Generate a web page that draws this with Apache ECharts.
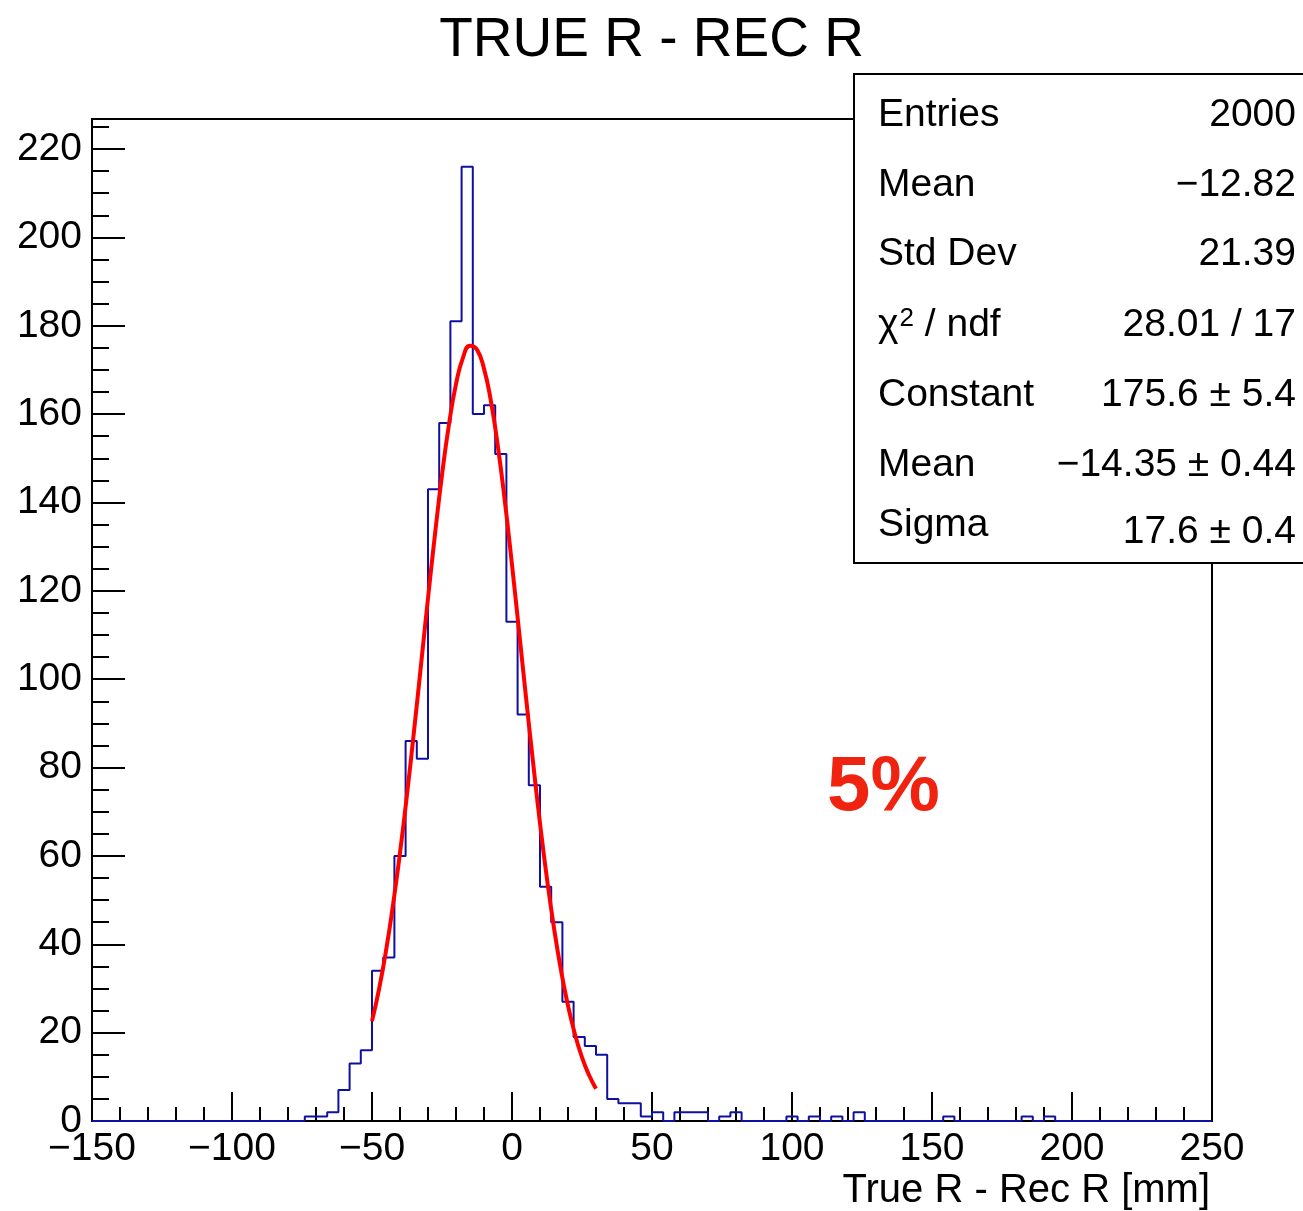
<!DOCTYPE html>
<html>
<head>
<meta charset="utf-8">
<script src="https://cdn.jsdelivr.net/npm/echarts@6/dist/echarts.min.js"></script>
<style>
  html, body { margin: 0; padding: 0; background: #fff; }
  #chart { width: 1303px; height: 1211px; }
</style>
</head>
<body>
<div id="chart"></div>
<script>
// histogram: 100 bins of 4 mm from -150 to 250
var binLow = -150
var binWidth = 4
var counts = [
  0, 0, 0, 0, 0, 0, 0, 0, 0, 0,
  0, 0, 0, 0, 0, 0, 0, 0, 0, 1,
  1, 2, 7, 13, 16, 34, 37, 60, 86, 82,
  143, 158, 181, 216, 160, 162, 151, 113, 92, 76,
  53, 45, 27, 19, 17, 15, 5, 4, 4, 1,
  2, 0, 2, 2, 2, 0, 1, 2, 0, 0,
  0, 0, 1, 0, 1, 0, 1, 0, 2, 0,
  0, 0, 0, 0, 0, 0, 1, 0, 0, 0,
  0, 0, 0, 1, 0, 1, 0, 0, 0, 0,
  0, 0, 0, 0, 0, 0, 0, 0, 0, 0
]

// gaussian fit curve (range -50 .. 30)
var fitX = [-50, -47.5, -45, -42.5, -40, -37.5, -35, -32.5, -30, -27.5, -25, -22.5, -20, -17.5, -15, -12.5,
  -10, -7.5, -5, -2.5, 0, 2.5, 5, 7.5, 10, 12.5, 15, 17.5, 20, 22.5, 25, 27.5, 30]
var fitY = [22.6, 29.8, 38.5, 48.9, 60.7, 73.9, 88.2, 103.2, 118.3, 132.8, 146.2, 157.7, 166.8, 172.8, 175.5, 174.6,
  170.3, 162.8, 152.5, 140.0, 125.9, 111.0, 95.9, 81.3, 67.4, 54.8, 43.7, 34.1, 26.1, 19.6, 14.4, 10.4, 7.3]

// stats box
var statNames = ['Entries', 'Mean', 'Std Dev', '{a|χ}{s|2}{a| / ndf}', 'Constant', 'Mean', 'Sigma']
var statValues = ['2000', '−12.82', '21.39', '28.01 / 17', '175.6 ± 5.4', '−14.35 ± 0.44', '17.6 ± 0.4']

var FONT = "'Liberation Sans', Arial, Helvetica, sans-serif"

var histData = counts.map(function (c, i) { return [binLow + i * binWidth, c] })
histData.push([binLow + counts.length * binWidth, 0])
var fitData = fitX.map(function (x, i) { return [x, fitY[i]] })

var nameY = [115, 185, 254, 325, 395, 465, 525]
var valueY = [115, 185, 254, 325, 395, 465, 532]
var statGraphics = []
statNames.forEach(function (n, i) {
  statGraphics.push({
    type: 'text', x: 878, y: nameY[i], z: 101,
    style: {
      text: n, font: '39px ' + FONT, fill: '#000', align: 'left', verticalAlign: 'middle',
      rich: {
        a: { fontSize: 39, fontFamily: FONT, fill: '#000', lineHeight: 39 },
        s: { fontSize: 26, fontFamily: FONT, fill: '#000', verticalAlign: 'top', lineHeight: 39, padding: [0, 0, 0, 1] }
      }
    }
  })
  statGraphics.push({
    type: 'text', x: 1296, y: valueY[i], z: 101,
    style: { text: statValues[i], font: '39px ' + FONT, fill: '#000', align: 'right', verticalAlign: 'middle' }
  })
})

var chart = echarts.init(document.getElementById('chart'), null, { renderer: 'canvas' })
chart.setOption({
  animation: false,
  backgroundColor: '#fff',
  textStyle: { fontFamily: FONT },
  grid: {
    left: 92,
    top: 119,
    width: 1120,
    height: 1002,
    show: true,
    borderColor: '#000',
    borderWidth: 2,
    backgroundColor: 'transparent'
  },
  xAxis: {
    type: 'value',
    min: -150,
    max: 250,
    interval: 50,
    axisLine: { onZero: false, lineStyle: { color: '#000', width: 2 } },
    axisTick: { inside: true, length: 29, lineStyle: { color: '#000', width: 2 } },
    minorTick: { show: true, splitNumber: 5, length: 14, lineStyle: { color: '#000', width: 2 } },
    splitLine: { show: false },
    axisLabel: {
      color: '#000',
      fontSize: 39,
      fontFamily: FONT,
      margin: 9,
      formatter: function (v) { return String(v).replace('-', '−') }
    }
  },
  yAxis: [
    {
      type: 'value',
      min: 0,
      max: 226.8,
      interval: 20,
      axisLine: { show: true, onZero: false, lineStyle: { color: '#000', width: 2 } },
      axisTick: { show: true, inside: true, length: 33, lineStyle: { color: '#000', width: 2 } },
      splitLine: { show: false },
      axisLabel: { color: '#000', fontSize: 39, fontFamily: FONT, margin: 10, padding: [6, 0, 0, 0], showMaxLabel: false }
    },
    {
      type: 'value',
      position: 'left',
      min: 0,
      max: 226.8,
      interval: 5,
      axisLine: { show: false, onZero: false },
      axisTick: { show: true, inside: true, length: 17, lineStyle: { color: '#000', width: 2 } },
      splitLine: { show: false },
      axisLabel: { show: false }
    }
  ],
  series: [
    {
      name: 'hist',
      type: 'line',
      step: 'end',
      yAxisIndex: 0,
      symbol: 'none',
      lineStyle: { color: '#1010a0', width: 2 },
      data: histData,
      z: 3
    },
    {
      name: 'gaus',
      type: 'line',
      smooth: true,
      yAxisIndex: 0,
      symbol: 'none',
      lineStyle: { color: '#ff0000', width: 4 },
      data: fitData,
      z: 4
    }
  ],
  graphic: [
    {
      type: 'text', left: 'center', top: 13,
      style: { text: 'TRUE R - REC R', font: '55px ' + FONT, fill: '#000' }
    },
    {
      type: 'rect', z: 100,
      shape: { x: 854, y: 74, width: 470, height: 489 },
      style: { fill: '#fff', stroke: '#000', lineWidth: 2 }
    },
    {
      type: 'text', x: 1210, y: 1191,
      style: { text: 'True R - Rec R [mm]', font: '40px ' + FONT, fill: '#000', align: 'right', verticalAlign: 'middle' }
    },
    {
      type: 'text', x: 827, y: 788,
      style: { text: '5%', font: 'bold 78px ' + FONT, fill: '#f02310', align: 'left', verticalAlign: 'middle' }
    }
  ].concat(statGraphics)
})
</script>
</body>
</html>
